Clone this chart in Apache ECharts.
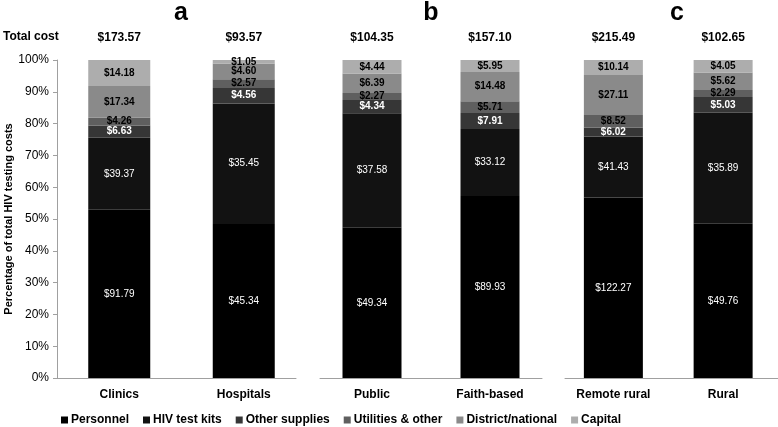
<!DOCTYPE html>
<html>
<head>
<meta charset="utf-8">
<script src="https://cdn.jsdelivr.net/npm/echarts@6/dist/echarts.min.js"></script>
<style>html,body{margin:0;padding:0;background:#fff}#c{width:778px;height:427px}</style>
</head>
<body>
<div id="c"></div>
<script>
const categories = ['Clinics', 'Hospitals', 'Public', 'Faith-based', 'Remote rural', 'Rural'];
const panels = ['a', 'b', 'c'];
const totalCost = [173.57, 93.57, 104.35, 157.10, 215.49, 102.65];
const personnel = [91.79, 45.34, 49.34, 89.93, 122.27, 49.76];
const hivTestKits = [39.37, 35.45, 37.58, 33.12, 41.43, 35.89];
const otherSupplies = [6.63, 4.56, 4.34, 7.91, 6.02, 5.03];
const utilities = [4.26, 2.57, 2.27, 5.71, 8.52, 2.29];
const districtNational = [17.34, 4.60, 6.39, 14.48, 27.11, 5.62];
const capital = [14.18, 1.05, 4.44, 5.95, 10.14, 4.05];
const yTicks = [0, 10, 20, 30, 40, 50, 60, 70, 80, 90, 100];

const seriesDefs = [
  {name: 'Personnel', data: personnel, color: '#000000', label: '#ffffff', bold: false},
  {name: 'HIV test kits', data: hivTestKits, color: '#121212', label: '#ffffff', bold: false},
  {name: 'Other supplies', data: otherSupplies, color: '#363636', label: '#ffffff', bold: true},
  {name: 'Utilities & other', data: utilities, color: '#5f5f5f', label: '#000000', bold: true},
  {name: 'District/national', data: districtNational, color: '#8a8a8a', label: '#000000', bold: true},
  {name: 'Capital', data: capital, color: '#adadad', label: '#000000', bold: true}
];

const sums = categories.map((c, i) => seriesDefs.reduce((s, d) => s + d.data[i], 0));

// data grids (bar positions) and axis-line grids
const dataGrids = [
  {left: 57, width: 249, top: 60, bottom: 49},
  {left: 313, width: 236, top: 60, bottom: 49},
  {left: 558.5, width: 236, top: 60, bottom: 49}
];
const lineGrids = [
  {left: 57, width: 239, top: 60, bottom: 49},
  {left: 320, width: 222, top: 60, bottom: 49},
  {left: 565, width: 240, top: 60, bottom: 49}
];
const barWidths = [62, 59, 59];

const grid = [], xAxis = [], yAxis = [], series = [];
dataGrids.forEach((g, p) => {
  grid.push(g);
  const cats = categories.slice(p * 2, p * 2 + 2);
  xAxis.push({
    type: 'category', gridIndex: p, data: cats, position: 'bottom',
    axisLine: {show: false}, axisTick: {show: false},
    axisLabel: {color: '#000', fontSize: 12, fontWeight: 'bold', fontFamily: 'Liberation Sans, Arial', margin: 11}
  });
  xAxis.push({
    type: 'category', gridIndex: p, data: totalCost.slice(p * 2, p * 2 + 2).map(v => '$' + v.toFixed(2)),
    position: 'top', axisLine: {show: false}, axisTick: {show: false},
    axisLabel: {color: '#000', fontSize: 12, fontWeight: 'bold', fontFamily: 'Liberation Sans, Arial', margin: 16}
  });
  yAxis.push(p === 0 ? {
    type: 'value', gridIndex: 0, min: 0, max: 100, interval: 10,
    name: 'Percentage of total HIV testing costs', nameLocation: 'middle', nameGap: 43, nameRotate: 90,
    nameTextStyle: {color: '#000', fontSize: 11, fontWeight: 'bold', fontFamily: 'Liberation Sans, Arial'},
    axisLine: {show: true, lineStyle: {color: '#a0a0a0', width: 1}},
    axisTick: {show: true, length: 4, lineStyle: {color: '#a0a0a0'}},
    axisLabel: {color: '#000', fontSize: 12, fontFamily: 'Liberation Sans, Arial', margin: 8,
      formatter: v => yTicks.includes(v) ? v + '%' : ''},
    splitLine: {show: false}
  } : {
    type: 'value', gridIndex: p, min: 0, max: 100, interval: 10, show: false, splitLine: {show: false}
  });
  seriesDefs.forEach(d => {
    series.push({
      name: d.name, type: 'bar', stack: 'p' + p, xAxisIndex: p * 2, yAxisIndex: p,
      barWidth: barWidths[p], itemStyle: {color: d.color},
      data: cats.map((c, j) => {
        const i = p * 2 + j;
        return {value: d.data[i] / sums[i] * 100, raw: d.data[i]};
      }),
      label: {
        show: true, position: 'inside', color: d.label, fontSize: 10,
        fontWeight: d.bold ? 'bold' : 'normal', fontFamily: 'Liberation Sans, Arial',
        textBorderWidth: 0, textShadowBlur: 0,
        formatter: prm => '$' + prm.data.raw.toFixed(2)
      },
      labelLayout: {hideOverlap: false}
    });
  });
});
lineGrids.forEach((g, k) => {
  const gi = grid.length;
  grid.push(g);
  xAxis.push({
    type: 'category', gridIndex: gi, data: ['', ''],
    axisLine: {show: true, lineStyle: {color: '#a0a0a0', width: 1}},
    axisTick: {show: false}, axisLabel: {show: false}
  });
  yAxis.push({type: 'value', gridIndex: gi, min: 0, max: 100, show: false, splitLine: {show: false}});
});

const panelCenters = [181, 431, 677];
const graphic = [{
  type: 'text', left: 3, top: 31,
  style: {text: 'Total cost', fill: '#000', font: 'bold 12px "Liberation Sans", Arial'}
}].concat(panels.map((t, k) => ({
  type: 'text', x: panelCenters[k], y: 13,
  style: {text: t, fill: '#000', font: 'bold 25px "Liberation Sans", Arial', textAlign: 'center', textVerticalAlign: 'middle'}
})));

const chart = echarts.init(document.getElementById('c'));
chart.setOption({
  animation: false,
  backgroundColor: '#fff',
  grid, xAxis, yAxis, series, graphic,
  legend: {
    data: seriesDefs.map(d => d.name), left: 56, top: 409,
    icon: 'rect', itemWidth: 7, itemHeight: 7, itemGap: 14,
    textStyle: {color: '#000', fontSize: 12, fontWeight: 'bold', fontFamily: 'Liberation Sans, Arial', padding: [0, 0, 0, -2]}
  }
});
</script>
</body>
</html>
